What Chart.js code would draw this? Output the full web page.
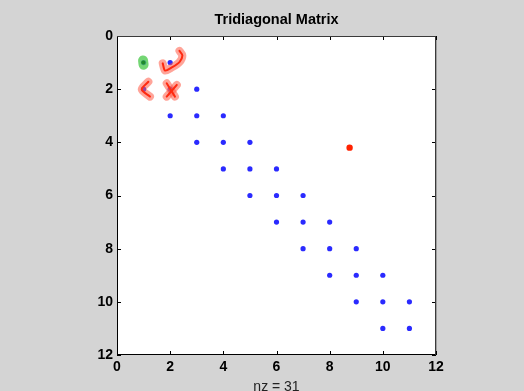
<!DOCTYPE html>
<html>
<head>
<meta charset="utf-8">
<script src="https://cdn.jsdelivr.net/npm/chart.js@4"></script>
<style>
    html, body { margin: 0; padding: 0; background: #d4d4d4; }
    #wrap { width: 524px; height: 391px; }
</style>
</head>
<body>
<div id="wrap"><canvas id="spy" width="524" height="391"></canvas></div>
<script>
// Nonzeros of the 11x11 tridiagonal matrix (column, row)
const nzCols = [1, 2, 1, 2, 3, 2, 3, 4, 3, 4, 5, 4, 5, 6, 5, 6, 7, 6, 7, 8, 7, 8, 9, 8, 9, 10, 9, 10, 11, 10, 11];
const nzRows = [1, 1, 2, 2, 2, 3, 3, 3, 4, 4, 4, 5, 5, 5, 6, 6, 6, 7, 7, 7, 8, 8, 8, 9, 9, 9, 10, 10, 10, 11, 11];

// Stray red point
const redX = [8.75];
const redY = [4.2];

// Hand-drawn marks (data coordinates)
const hookX = [1.72, 1.81, 2.05, 2.35, 2.46, 2.35];
const hookY = [1.03, 1.30, 1.19, 0.98, 0.73, 0.56];
const angleX = [1.18, 0.93, 1.24];
const angleY = [1.72, 2.01, 2.28];
const crossAX = [1.87, 2.18];
const crossAY = [1.78, 2.28];
const crossBX = [2.25, 1.87];
const crossBY = [1.84, 2.28];
const blobX = [0.98, 1.0];
const blobY = [0.92, 1.08];

const tickVals = [0, 2, 4, 6, 8, 10, 12];

const pts = (xs, ys) => xs.map((x, i) => ({ x: x, y: ys[i] }));

function stroke(xs, ys, color, width, order) {
    return {
        type: 'line',
        data: pts(xs, ys),
        showLine: true,
        borderColor: color,
        borderWidth: width,
        borderCapStyle: 'round',
        borderJoinStyle: 'round',
        pointRadius: 0,
        tension: 0.3,
        fill: false,
        order: order
    };
}

const redHalo = 'rgba(255, 90, 70, 0.55)';
const redInk = '#ff2a10';

// MATLAB style box with inward ticks
const boxPlugin = {
    id: 'box',
    afterDraw(chart) {
        const { ctx, chartArea: a, scales } = chart;
        const L = Math.round(a.left), R = Math.round(a.right);
        const T = Math.round(a.top), B = Math.round(a.bottom);
        ctx.save();
        ctx.fillStyle = '#000';
        tickVals.forEach(v => {
            const px = Math.round(scales.x.getPixelForValue(v));
            const py = Math.round(scales.y.getPixelForValue(v));
            ctx.fillRect(px, B - 4, 1, 4);
            ctx.fillRect(px, T, 1, 4);
            ctx.fillRect(L, py, 4, 1);
            ctx.fillRect(R - 4, py, 4, 1);
        });
        ctx.fillRect(L, T, 1, B - T);
        ctx.fillRect(L, B - 1, R - L, 1);
        ctx.fillStyle = '#3a3a3a';
        ctx.fillRect(L, T, R - L, 1);
        ctx.fillRect(R - 1, T, 1, B - T);
        ctx.fillStyle = 'rgba(0,0,0,0.25)';
        ctx.fillRect(R, T, 1, B - T);
        ctx.restore();
    }
};

const plotBg = {
    id: 'plotBg',
    beforeDraw(chart) {
        const { ctx, chartArea: a } = chart;
        ctx.save();
        ctx.fillStyle = '#d4d4d4';
        ctx.fillRect(0, 0, chart.width, chart.height);
        ctx.fillStyle = '#ffffff';
        ctx.fillRect(a.left, a.top, a.right - a.left, a.bottom - a.top);
        ctx.restore();
    }
};

new Chart(document.getElementById('spy'), {
    type: 'scatter',
    data: {
        datasets: [
            stroke(blobX, blobY, 'rgba(70, 200, 70, 0.75)', 10, 1),
            {
                type: 'scatter',
                data: [{ x: 0.99, y: 1.0 }],
                pointRadius: 2,
                backgroundColor: '#1e8a2a',
                borderWidth: 0,
                order: 0
            },
            stroke(hookX, hookY, redHalo, 8, 1),
            stroke(hookX, hookY, redInk, 2, 0),
            stroke(angleX, angleY, redHalo, 8, 1),
            stroke(angleX, angleY, redInk, 2, 0),
            stroke(crossAX, crossAY, redHalo, 8, 1),
            stroke(crossAX, crossAY, redInk, 2, 0),
            stroke(crossBX, crossBY, redHalo, 8, 1),
            stroke(crossBX, crossBY, redInk, 2, 0),
            {
                label: 'red',
                data: pts(redX, redY),
                pointRadius: 3.2,
                backgroundColor: '#ff2200',
                borderWidth: 0,
                order: 2
            },
            {
                label: 'nz',
                data: pts(nzCols, nzRows),
                pointRadius: 2.6,
                backgroundColor: '#2a2aff',
                borderWidth: 0,
                order: 3
            }
        ]
    },
    options: {
        responsive: false,
        animation: false,
        layout: { padding: { left: 0, right: 88, top: 0, bottom: 0 } },
        plugins: {
            legend: { display: false },
            tooltip: { enabled: false },
            title: {
                display: true,
                text: 'Tridiagonal Matrix',
                fullSize: false,
                color: '#000',
                font: { family: 'Liberation Sans', size: 14.5, weight: 'bold' },
                padding: { top: 11, bottom: 7.6 }
            }
        },
        scales: {
            x: {
                type: 'linear',
                position: 'bottom',
                min: 0,
                max: 12,
                grid: { display: false, drawTicks: false },
                border: { display: false },
                ticks: {
                    stepSize: 2,
                    color: '#000',
                    padding: 4,
                    font: { family: 'Liberation Sans', size: 14, weight: 'bold' }
                },
                title: {
                    display: true,
                    text: 'nz = 31',
                    color: '#222',
                    padding: { top: 0, bottom: -5 },
                    font: { family: 'Liberation Sans', size: 14 }
                },
                afterFit: s => { s.height = 36; }
            },
            y: {
                type: 'linear',
                position: 'left',
                reverse: true,
                min: 0,
                max: 12,
                grid: { display: false, drawTicks: false },
                border: { display: false },
                ticks: {
                    stepSize: 2,
                    color: '#000',
                    padding: 4,
                    font: { family: 'Liberation Sans', size: 14, weight: 'bold' }
                },
                afterFit: s => { s.width = 117; }
            }
        }
    },
    plugins: [plotBg, boxPlugin]
});
</script>
</body>
</html>
